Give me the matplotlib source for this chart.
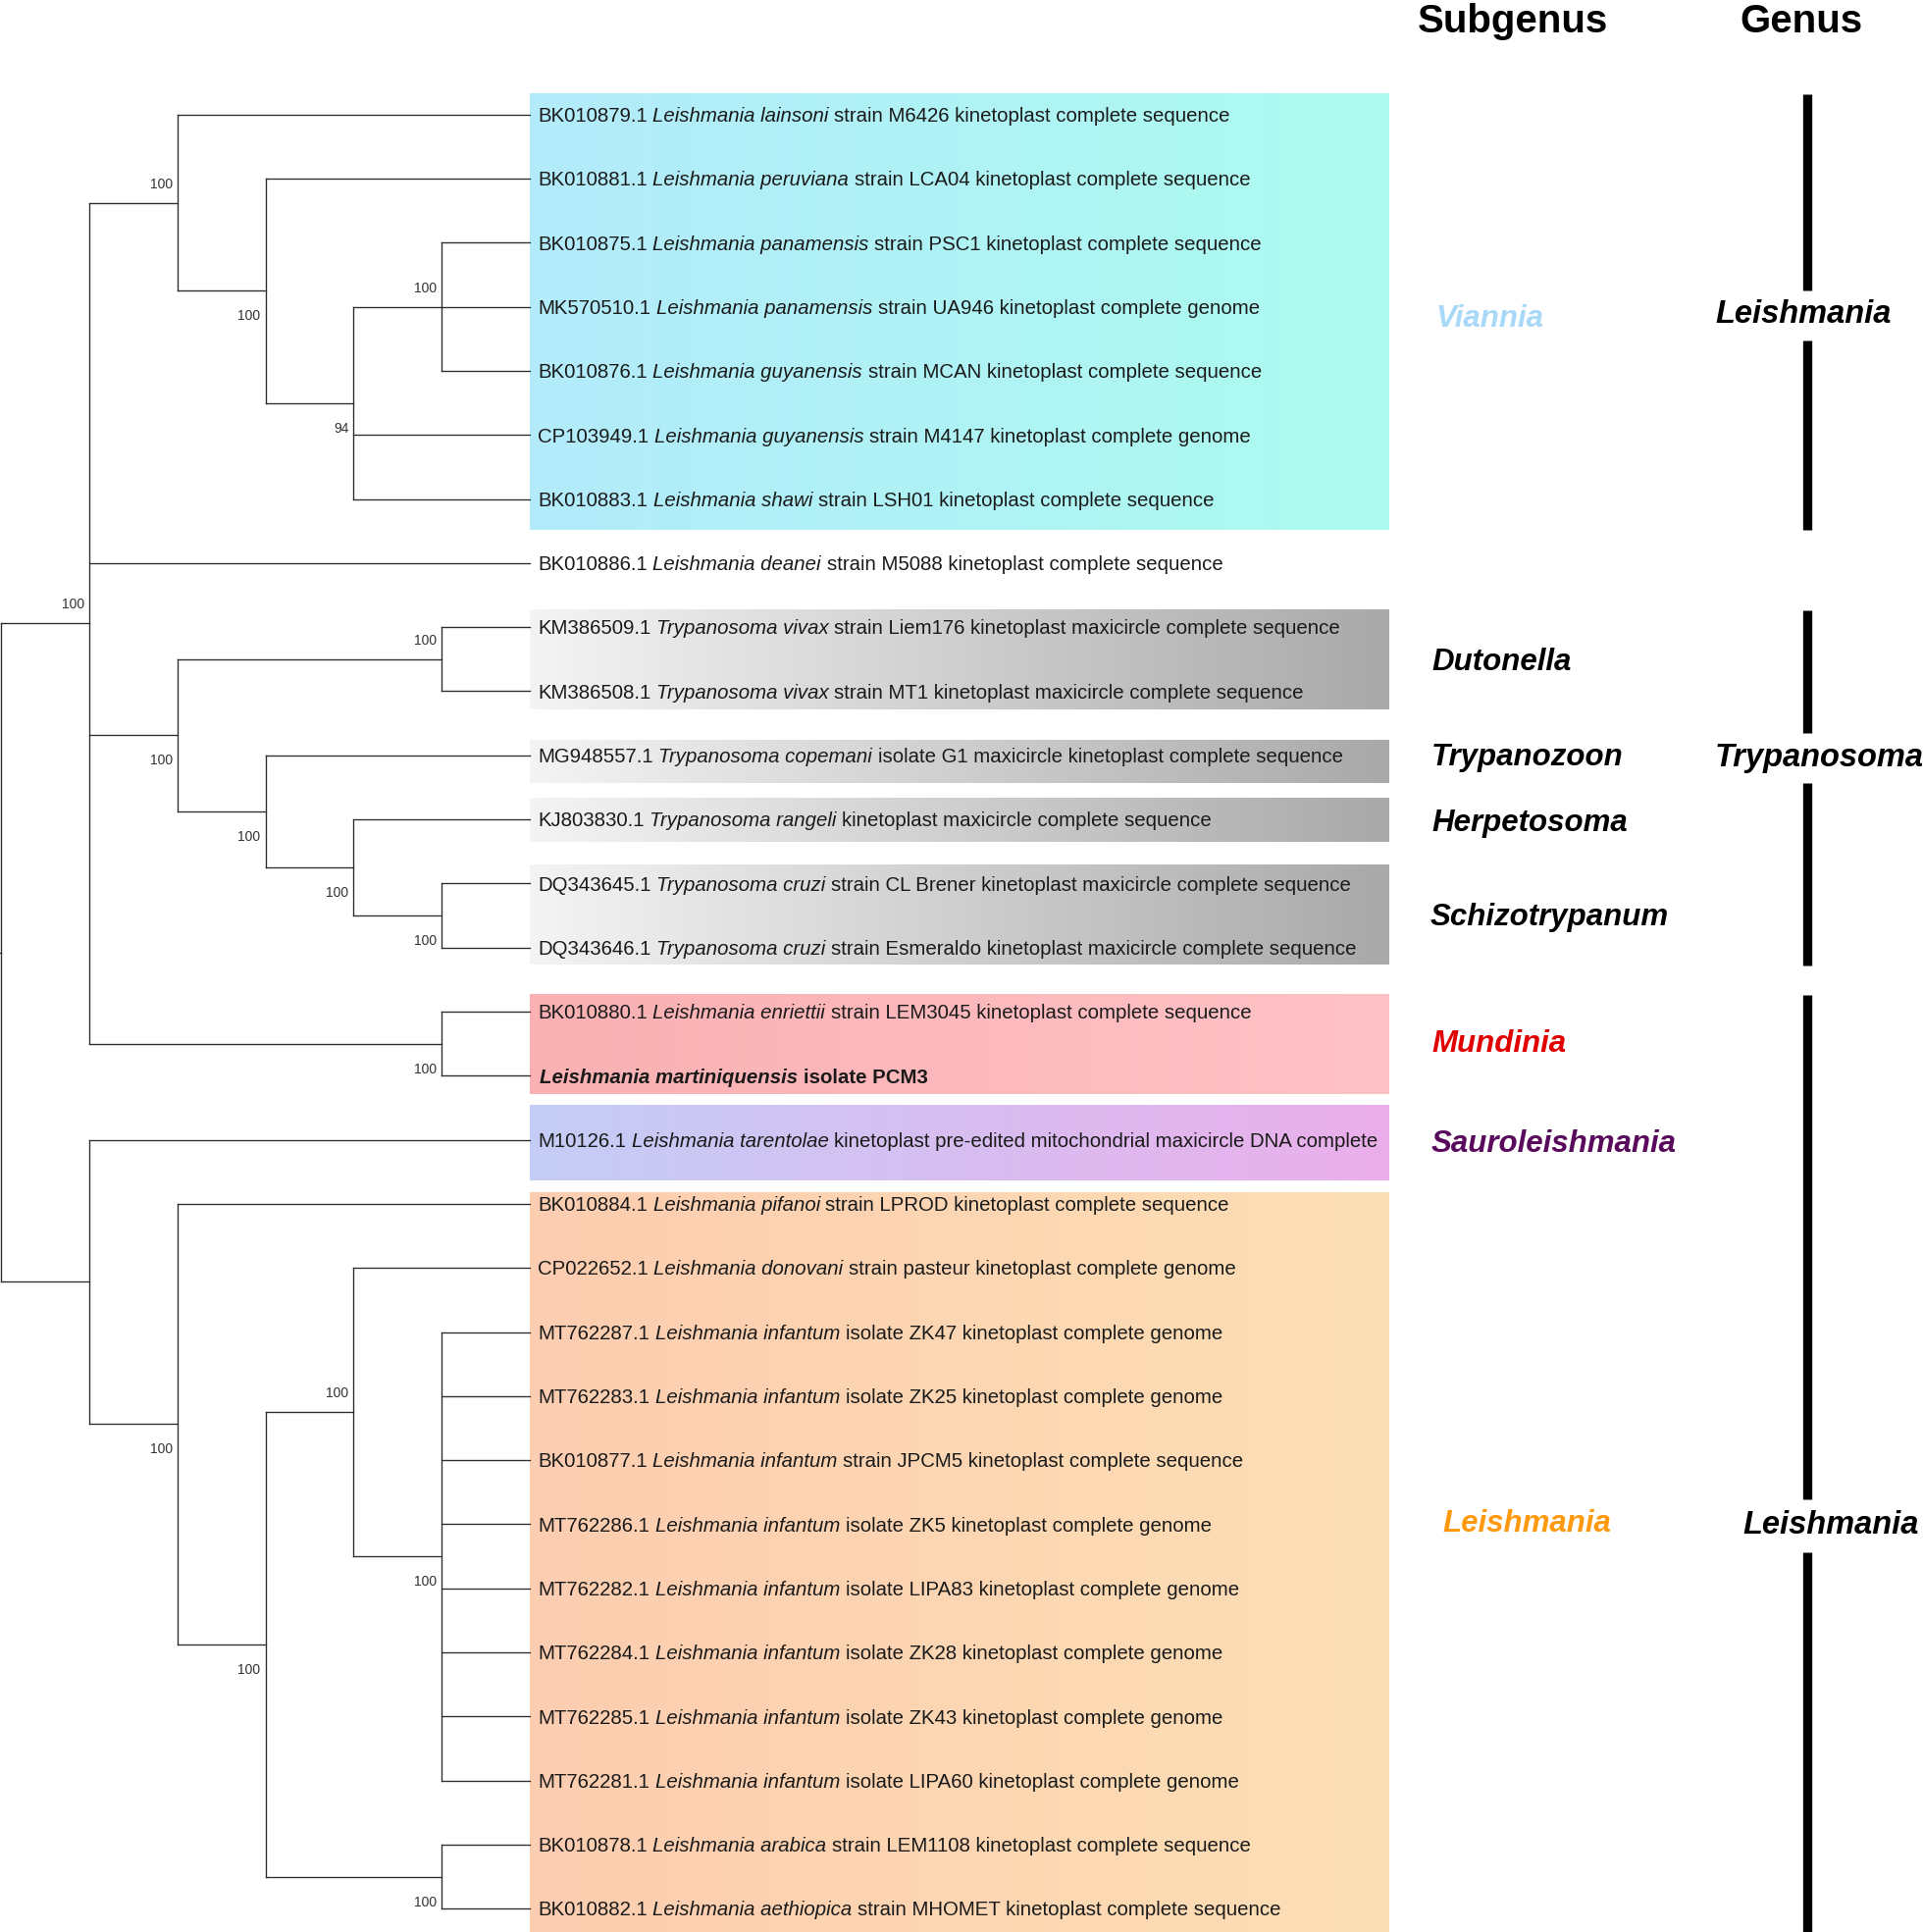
import matplotlib
matplotlib.use("Agg")
import matplotlib.pyplot as plt
import numpy as np
from matplotlib.colors import to_rgb

# ---------------- data ----------------
accessions = ["BK010879.1", "BK010881.1", "BK010875.1", "MK570510.1", "BK010876.1",
              "CP103949.1", "BK010883.1", "BK010886.1", "KM386509.1", "KM386508.1",
              "MG948557.1", "KJ803830.1", "DQ343645.1", "DQ343646.1", "BK010880.1",
              "", "M10126.1", "BK010884.1", "CP022652.1", "MT762287.1", "MT762283.1",
              "BK010877.1", "MT762286.1", "MT762282.1", "MT762284.1", "MT762285.1",
              "MT762281.1", "BK010878.1", "BK010882.1"]
species = ["Leishmania lainsoni", "Leishmania peruviana", "Leishmania panamensis",
           "Leishmania panamensis", "Leishmania guyanensis", "Leishmania guyanensis",
           "Leishmania shawi", "Leishmania deanei", "Trypanosoma vivax", "Trypanosoma vivax",
           "Trypanosoma copemani", "Trypanosoma rangeli", "Trypanosoma cruzi",
           "Trypanosoma cruzi", "Leishmania enriettii", "Leishmania martiniquensis",
           "Leishmania tarentolae", "Leishmania pifanoi", "Leishmania donovani",
           "Leishmania infantum", "Leishmania infantum", "Leishmania infantum",
           "Leishmania infantum", "Leishmania infantum", "Leishmania infantum",
           "Leishmania infantum", "Leishmania infantum", "Leishmania arabica",
           "Leishmania aethiopica"]
descriptions = ["strain M6426 kinetoplast complete sequence",
                "strain LCA04 kinetoplast complete sequence",
                "strain PSC1 kinetoplast complete sequence",
                "strain UA946 kinetoplast complete genome",
                "strain MCAN kinetoplast complete sequence",
                "strain M4147 kinetoplast complete genome",
                "strain LSH01 kinetoplast complete sequence",
                "strain M5088 kinetoplast complete sequence",
                "strain Liem176 kinetoplast maxicircle complete sequence",
                "strain MT1 kinetoplast maxicircle complete sequence",
                "isolate G1 maxicircle kinetoplast complete sequence",
                "kinetoplast maxicircle complete sequence",
                "strain CL Brener kinetoplast maxicircle complete sequence",
                "strain Esmeraldo kinetoplast maxicircle complete sequence",
                "strain LEM3045 kinetoplast complete sequence",
                "isolate PCM3",
                "kinetoplast pre-edited mitochondrial maxicircle DNA complete",
                "strain LPROD kinetoplast complete sequence",
                "strain pasteur kinetoplast complete genome",
                "isolate ZK47 kinetoplast complete genome",
                "isolate ZK25 kinetoplast complete genome",
                "strain JPCM5 kinetoplast complete sequence",
                "isolate ZK5 kinetoplast complete genome",
                "isolate LIPA83 kinetoplast complete genome",
                "isolate ZK28 kinetoplast complete genome",
                "isolate ZK43 kinetoplast complete genome",
                "isolate LIPA60 kinetoplast complete genome",
                "strain LEM1108 kinetoplast complete sequence",
                "strain MHOMET kinetoplast complete sequence"]
highlighted_leaf = 15  # the new sequence, shown in bold

# tree topology: (children, bootstrap support); integers are leaf indices
viannia = ([0, ([1, ([([2, 3, 4], 100), 5, 6], 94)], 100)], 100)
trypanosoma = ([([8, 9], 100), ([10, ([11, ([12, 13], 100)], 100)], 100)], 100)
mundinia = ([14, 15], 100)
leish_main = ([17, ([([18, (list(range(19, 27)), 100)], 100), ([27, 28], 100)], 100)], 100)
tree = ([([viannia, 7, trypanosoma, mundinia], 100), ([16, leish_main], None)], None)

subgenera = ["Viannia", "Dutonella", "Trypanozoon", "Herpetosoma", "Schizotrypanum",
             "Mundinia", "Sauroleishmania", "Leishmania"]
subgenus_colors = ["#a9d9f8", "#000000", "#000000", "#000000", "#000000",
                   "#e00000", "#5a0a5c", "#ff9a0e"]
genera = ["Leishmania", "Trypanosoma", "Leishmania"]

# ---------------- layout / style ----------------
W, H = 1960, 1969
fig = plt.figure(figsize=(W / 100, H / 100), dpi=100)
ax = fig.add_axes([0, 0, 1, 1])
FONT = "Liberation Sans"
LEAF_X = 540.0
STEP = 89.8
Y0, DY = 116.8, 65.3
LINE_C = "#2b2b2b"
LW = 0.95

def leaf_y(i):
    return Y0 + DY * i

def cap(fs):
    return fs * 100 / 72 * 0.716

segments = []
labels = []

def layout(node):
    if isinstance(node, int):
        return LEAF_X, leaf_y(node), 0
    children, sup = node
    info = [layout(c) for c in children]
    h = 1 + max(c[2] for c in info)
    x = LEAF_X - h * STEP
    ys = [c[1] for c in info]
    y = (ys[0] + ys[-1]) / 2
    segments.append(((x, x), (ys[0], ys[-1])))
    for k, (cx, cy, ch) in enumerate(info):
        segments.append(((x, cx), (cy, cy)))
        c = children[k]
        if not isinstance(c, int) and c[1] is not None:
            labels.append((cx, cy, c[1], k == 0))
    return x, y, h

rx, ry, _ = layout(tree)
segments.append(((rx - 6, rx), (ry, ry)))

# clade boxes (gradients): (y_top, y_bottom, left colour, right colour)
box_x0, box_x1 = 540, 1415
boxes = [(95.5, 540, "#b3ebfb", "#acfbef"),
         (621.5, 723, "#f4f4f4", "#a9a9a9"),
         (754, 798, "#f4f4f4", "#a9a9a9"),
         (813.5, 858.5, "#f4f4f4", "#a9a9a9"),
         (882, 983.5, "#f4f4f4", "#a9a9a9"),
         (1013.5, 1115, "#f9b1b3", "#ffc2c7"),
         (1126.5, 1203.5, "#c4cdf6", "#ebafeb"),
         (1215, 1969, "#fccdb0", "#fddfb5")]
for (yt, yb, c0, c1) in boxes:
    n = 256
    a = np.array(to_rgb(c0)); b = np.array(to_rgb(c1))
    t = np.linspace(0, 1, n)[:, None]
    grad = (a * (1 - t) + b * t)[None, :, :]
    ax.imshow(grad, extent=(box_x0, box_x1, yb, yt), aspect="auto",
              interpolation="bilinear", zorder=0)

for xs, ys in segments:
    ax.plot(xs, ys, color=LINE_C, lw=LW, solid_capstyle="projecting", zorder=2)

# bootstrap labels
BS_FS = 10
for (x, y, v, above) in labels:
    yc = y - 20 if above else y + 25
    ax.text(x - 5, yc + cap(BS_FS) / 2, str(v), ha="right", va="baseline",
            fontsize=BS_FS, family=FONT, color="#333333", zorder=3)

ax.set_xlim(0, W)
ax.set_ylim(H, 0)
ax.axis("off")
renderer = fig.canvas.get_renderer()

def width(s, **kw):
    t = ax.text(0, 0, s, **kw)
    w = t.get_window_extent(renderer).width
    t.remove()
    return w

# leaf labels with mixed styles
LEAF_FS = 14.65
for i in range(len(species)):
    weight = "bold" if i == highlighted_leaf else "normal"
    parts = []
    if accessions[i]:
        parts.append((accessions[i], "normal"))
    parts.append((species[i], "italic"))
    parts.append((descriptions[i], "normal"))
    x = 548 if i != highlighted_leaf else 550
    yb = leaf_y(i) + cap(LEAF_FS) / 2
    for s, style in parts:
        kw = dict(fontsize=LEAF_FS, family=FONT, style=style, weight=weight)
        ax.text(x, yb, s, ha="left", va="baseline", color="#1a1a1a", zorder=3, **kw)
        sp = width("a a", **kw) - width("aa", **kw)
        x += width(s, **kw) + sp

# subgenus labels: (left x, centre y)
SUB_FS = 22.5
sub_pos = [(1463, 321.5), (1459, 672), (1459, 769), (1459, 836), (1458, 932),
           (1459, 1061), (1459, 1163), (1470, 1550)]
for name, col, (x, y) in zip(subgenera, subgenus_colors, sub_pos):
    ax.text(x, y + cap(SUB_FS) / 2, name, ha="left", va="baseline", fontsize=SUB_FS,
            family=FONT, style="italic", weight="bold", color=col)

# genus bars and labels
GEN_FS = 23.5
bar_x = 1842
bar_segments = [(95.5, 296), (347, 540), (621.5, 747), (798, 983.5), (1013.5, 1528), (1582, 1969)]
for (a, b) in bar_segments:
    ax.plot([bar_x, bar_x], [a, b], color="black", lw=6.7, solid_capstyle="butt")
gen_pos = [(1838, 317), (1854, 769), (1866, 1551)]
for name, (x, y) in zip(genera, gen_pos):
    ax.text(x, y + cap(GEN_FS) / 2, name, ha="center", va="baseline", fontsize=GEN_FS,
            family=FONT, style="italic", weight="bold", color="black")

# headers
ax.text(1542, 32.5, "Subgenus", ha="center", va="baseline", fontsize=29,
        family=FONT, weight="bold", color="black")
ax.text(1836, 32.5, "Genus", ha="center", va="baseline", fontsize=29,
        family=FONT, weight="bold", color="black")

fig.savefig("out.png", dpi=100, facecolor="white")
